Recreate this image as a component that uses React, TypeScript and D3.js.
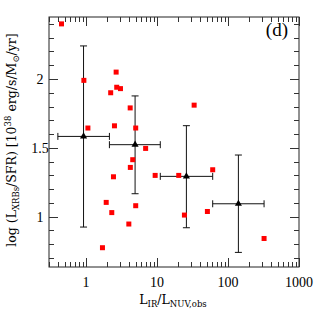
import React, { useEffect, useRef } from 'react';
import * as d3 from 'd3';

// individual galaxies (red squares)
const galX = [0.45, 0.93, 1.06, 2.65, 2.7, 3.05, 2.22, 4.18, 2.51, 5.0, 33.3, 6.9, 4.54, 4.2, 2.43, 9.4, 20.2, 1.92, 5.0, 2.3, 4.0, 1.7, 60.8, 24.3, 51.2, 322];
const galY = [2.40, 1.99, 1.644, 2.05, 1.94, 1.93, 1.90, 1.79, 1.66, 1.644, 1.81, 1.496, 1.414, 1.358, 1.29, 1.30, 1.30, 1.104, 1.08, 1.03, 0.947, 0.775, 1.341, 1.012, 1.038, 0.842];

// binned averages (black triangles)
const binX = [0.92, 4.9, 25.9, 140];
const binY = [1.583, 1.523, 1.293, 1.094];
const binXLo = [0.40, 2.13, 11.1, 60.8];
const binXHi = [2.13, 11.1, 60.8, 322];
const binYLo = [0.925, 1.167, 0.92, 0.741];
const binYHi = [2.24, 1.877, 1.661, 1.448];

const xMajor = [1, 10, 100, 1000];
const yMajor = [1, 1.5, 2];
const yLabels = ['1', '1.5', '2'];

const App = () => {
	const ref = useRef<SVGSVGElement>(null);

	useEffect(() => {
		const margin = { top: 17, left: 49 };
		const width = 250;
		const height = 250;
		const svgRoot = d3.select(ref.current);
		svgRoot.selectAll('*').remove();
		const svg = svgRoot.append('g').attr('transform', `translate(${margin.left},${margin.top})`);

		const x = d3.scaleLog().domain([0.3, 1000]).range([0, width]);
		const y = d3.scaleLinear().domain([0.635, 2.45]).range([height, 0]);

		const font = '"Liberation Serif", "DejaVu Serif", serif';
		const titleFont = '"DejaVu Serif", serif';

		// frame
		svg.append('rect')
			.attr('x', 0).attr('y', 0)
			.attr('width', width).attr('height', height)
			.attr('fill', 'none').attr('stroke', '#222').attr('stroke-width', 1);

		// x ticks, bottom and top, pointing inward
		const xt = x.ticks().filter(t => t >= 0.3 && t <= 1000);
		xt.forEach(t => {
			const major = xMajor.includes(t);
			const len = major ? 9 : 5;
			const px = Math.round(x(t)) + 0.5;
			svg.append('line').attr('x1', px).attr('x2', px).attr('y1', height).attr('y2', height - len)
				.attr('stroke', '#333').attr('stroke-width', 1);
			svg.append('line').attr('x1', px).attr('x2', px).attr('y1', 0).attr('y2', len)
				.attr('stroke', '#333').attr('stroke-width', 1);
		});

		// y ticks, left and right
		const yt = y.ticks(20);
		yt.forEach(t => {
			const major = yMajor.some(m => Math.abs(m - t) < 1e-6);
			const len = major ? 9 : 5;
			const py = Math.round(y(t)) + 0.5;
			svg.append('line').attr('x1', 0).attr('x2', len).attr('y1', py).attr('y2', py)
				.attr('stroke', '#333').attr('stroke-width', 1);
			svg.append('line').attr('x1', width).attr('x2', width - len).attr('y1', py).attr('y2', py)
				.attr('stroke', '#333').attr('stroke-width', 1);
		});

		// tick labels
		svg.selectAll('.xlab').data(xMajor).enter().append('text')
			.attr('x', d => x(d)).attr('y', height + 20)
			.attr('text-anchor', 'middle')
			.style('font-family', font).style('font-size', '14px')
			.text(d => String(d));

		svg.selectAll('.ylab').data(yMajor).enter().append('text')
			.attr('x', -9).attr('y', d => y(d) + 5)
			.attr('text-anchor', 'middle')
			.style('font-family', font).style('font-size', '14px')
			.text((d, i) => yLabels[i]);

		// error bars
		const cap = 3.5;
		binX.forEach((bx, i) => {
			const cx = x(bx), cy = y(binY[i]);
			const y0 = y(binYLo[i]), y1 = y(binYHi[i]);
			const x0 = x(binXLo[i]), x1 = x(binXHi[i]);
			const g = svg.append('g').attr('stroke', '#111').attr('stroke-width', 1);
			g.append('line').attr('x1', cx).attr('x2', cx).attr('y1', y0).attr('y2', y1);
			g.append('line').attr('x1', cx - cap).attr('x2', cx + cap).attr('y1', y0).attr('y2', y0);
			g.append('line').attr('x1', cx - cap).attr('x2', cx + cap).attr('y1', y1).attr('y2', y1);
			g.append('line').attr('x1', x0).attr('x2', x1).attr('y1', cy).attr('y2', cy);
			g.append('line').attr('x1', x0).attr('x2', x0).attr('y1', cy - cap).attr('y2', cy + cap);
			g.append('line').attr('x1', x1).attr('x2', x1).attr('y1', cy - cap).attr('y2', cy + cap);
		});

		// red squares
		svg.selectAll('.gal').data(galX).enter().append('rect')
			.attr('x', (d) => x(d) - 2.5)
			.attr('y', (d, i) => y(galY[i]) - 2.5)
			.attr('width', 5).attr('height', 5)
			.attr('fill', '#ff0000');

		// triangles
		const tri = d3.symbol().type(d3.symbolTriangle).size(22);
		svg.selectAll('.bin').data(binX).enter().append('path')
			.attr('d', tri)
			.attr('transform', (d, i) => `translate(${x(d)},${y(binY[i])})`)
			.attr('fill', '#000');

		// panel label
		svg.append('text')
			.attr('x', 239).attr('y', 19)
			.attr('text-anchor', 'end')
			.style('font-family', font).style('font-size', '19px')
			.text('(d)');

		// x title
		const xt2 = svgRoot.append('text')
			.attr('x', 173).attr('y', 304)
			.attr('text-anchor', 'middle')
			.style('font-family', titleFont).style('font-size', '12.5px');
		xt2.append('tspan').text('L');
		xt2.append('tspan').attr('dy', 3).style('font-size', '8.5px').text('IR');
		xt2.append('tspan').attr('dy', -3).text('/L');
		xt2.append('tspan').attr('dy', 3).style('font-size', '8.5px').text('NUV,obs');

		// y title
		const yt2 = svgRoot.append('text')
			.attr('transform', 'translate(16,140) rotate(-90)')
			.attr('text-anchor', 'middle')
			.style('font-family', titleFont).style('font-size', '12.5px');
		yt2.append('tspan').text('log (L');
		yt2.append('tspan').attr('dy', 3).style('font-size', '8.5px').text('XRBs');
		yt2.append('tspan').attr('dy', -3).text('/SFR) [10');
		yt2.append('tspan').attr('dy', -5).style('font-size', '8.5px').text('38');
		yt2.append('tspan').attr('dy', 5).text(' erg/s/M');
		yt2.append('tspan').attr('dy', 3).style('font-size', '8.5px').text('⊙');
		yt2.append('tspan').attr('dy', -3).text('/yr]');
	}, []);

	return (
		<svg ref={ref} width={316} height={316}
			style={{ position: 'absolute', left: 0, top: 0, background: '#fff' }} />
	);
};

export default App;
